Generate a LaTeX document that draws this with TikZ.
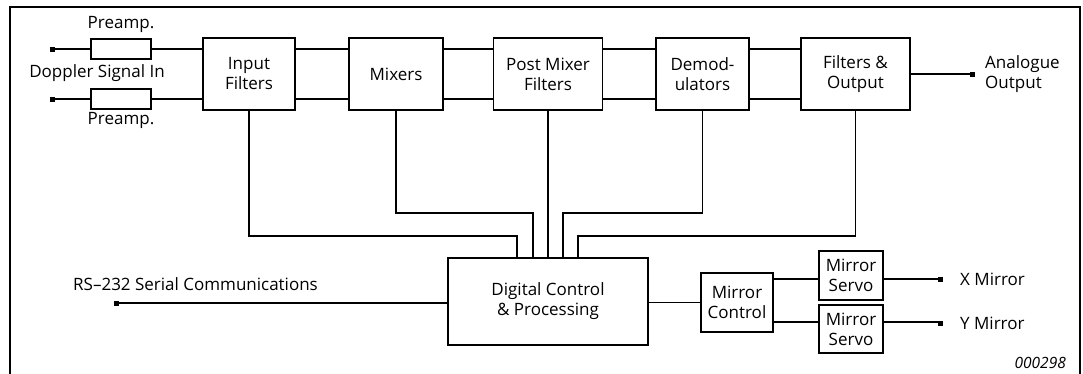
\documentclass[tikz,border=0pt]{standalone}
\usepackage{fontspec}
\setmainfont{Open Sans}
\begin{document}
\begin{tikzpicture}[x=1pt,y=-1pt,
  blk/.style={draw,line width=1.2pt,inner sep=0pt,align=center,font=\fontsize{17}{20}\selectfont},
  term/.style={fill=black,minimum size=5pt,inner sep=0pt},
  lbl/.style={inner sep=0pt,align=center,font=\fontsize{17}{20}\selectfont},
  wire/.style={line width=1.2pt}]
\useasboundingbox (0,0) rectangle (1083,373);
\draw[line width=2pt] (10,376) -- (10,7) -- (1080,7) -- (1080,376);
% top chain
\node[blk,minimum width=60pt,minimum height=20pt] (pre1) at (121,49) {};
\node[blk,minimum width=60pt,minimum height=20pt] (pre2) at (121,99) {};
\node[blk,minimum width=92pt,minimum height=72pt] (inf) at (249,74) {Input\\Filters};
\node[blk,minimum width=94pt,minimum height=72pt] (mix) at (396,74) {Mixers};
\node[blk,minimum width=109pt,minimum height=72pt] (pmf) at (548,74) {Post Mixer\\Filters};
\node[blk,minimum width=93pt,minimum height=72pt] (dem) at (702.5,74) {Demod-\\ulators};
\node[blk,minimum width=109pt,minimum height=72pt] (fo) at (855.5,74) {Filters \&\\Output};
\node[term] (t1) at (52,49) {};
\node[term] (t2) at (52,99) {};
\node[term] (tao) at (972,74) {};
\node[lbl] (lp1) at (121,24) {Preamp.};
\node[lbl] (lp2) at (121,120) {Preamp.};
\node[lbl] (ldop) at (97,73) {Doppler Signal In};
\node[lbl,anchor=west,align=left] (lao) at (985,74) {Analogue\\Output};
\draw[wire] (t1.center) -- (pre1.west);
\draw[wire] (t2.center) -- (pre2.west);
\draw[wire] (pre1.east) -- (pre1.east -| inf.west);
\draw[wire] (pre2.east) -- (pre2.east -| inf.west);
\foreach \a/\b in {inf/mix,mix/pmf,pmf/dem,dem/fo}{
  \draw[wire] (\a.east |- t1) -- (\b.west |- t1);
  \draw[wire] (\a.east |- t2) -- (\b.west |- t2);
}
\draw[wire] (fo.east) -- (tao.center);
% lower part
\node[blk,minimum width=200pt,minimum height=87pt] (dcp) at (548,301.5) {Digital Control\\\& Processing};
\node[blk,minimum width=72pt,minimum height=59pt] (mc) at (737,302.5) {Mirror\\Control};
\node[blk,minimum width=64pt,minimum height=49pt] (ms1) at (851,275.5) {Mirror\\Servo};
\node[blk,minimum width=64pt,minimum height=48pt] (ms2) at (851,329) {Mirror\\Servo};
\node[term] (trs) at (116,303) {};
\node[term] (tx) at (940,279) {};
\node[term] (ty) at (940,323) {};
\node[lbl,anchor=west] (lrs) at (73,284) {RS--232 Serial Communications};
\node[lbl,anchor=west] (lx) at (960,279) {X Mirror};
\node[lbl,anchor=west] (ly) at (960,323) {Y Mirror};
\node[lbl,anchor=east,font=\fontsize{15.5}{18}\selectfont\itshape] (lnum) at (1066,362.5) {000298};
\coordinate (k1) at (517,236);
\coordinate (k2) at (533,213);
\coordinate (k4) at (563,213);
\coordinate (k5) at (578,236);
\draw[wire] (inf.south) |- (k1) -- (k1 |- dcp.north);
\draw[wire] (mix.south) |- (k2) -- (k2 |- dcp.north);
\draw[wire] (pmf.south) -- (dcp.north);
\draw[wire] (dem.south) |- (k4) -- (k4 |- dcp.north);
\draw[wire] (fo.south) |- (k5) -- (k5 |- dcp.north);
\draw[wire] (trs.center) -- (trs.center -| dcp.west);
\draw[wire] (dcp.east |- mc) -- (mc.west);
\coordinate (my) at (773,322);
\draw[wire] (mc.east |- tx) -- (ms1.west |- tx);
\draw[wire] (ms1.east |- tx) -- (tx.center);
\draw[wire] (mc.east |- my) -- (ms2.west |- my);
\draw[wire] (ms2.east |- my) -- (ty.center |- my);
\end{tikzpicture}
\end{document}
